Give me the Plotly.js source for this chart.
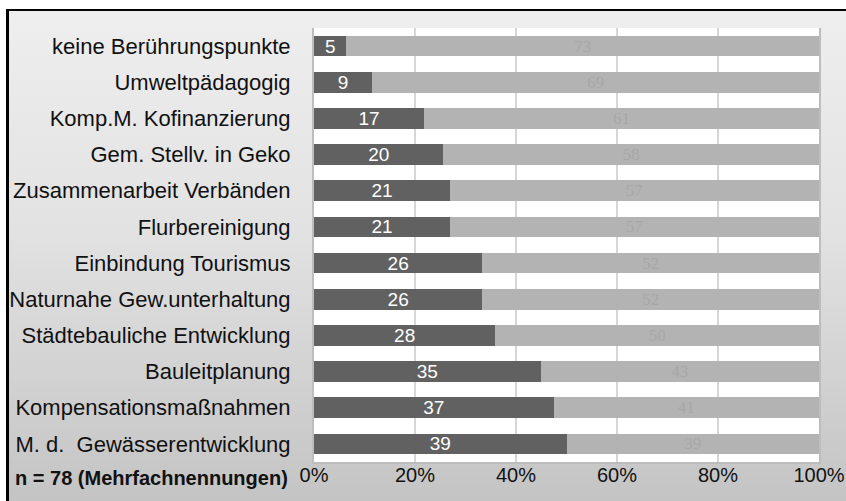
<!DOCTYPE html>
<html>
<head>
<meta charset="utf-8">
<script src="https://cdn.plot.ly/plotly-3.0.1.min.js"></script>
<style>
  html, body { margin: 0; padding: 0; background: #ffffff; }
  #wrap { position: relative; width: 846px; height: 501px; overflow: hidden; background: #ffffff; }
  #bg { position: absolute; left: 6px; top: 9px; right: 0; bottom: 0;
        border-left: 3px solid #000; border-top: 2px solid #000;
        background: linear-gradient(to bottom, #eeeeee 0%, #e2e2e2 45%, #c4c4c4 100%); }
  #chart { position: absolute; left: 0; top: 0; width: 846px; height: 501px; }
</style>
</head>
<body>
<div id="wrap"><div id="bg"></div><div id="chart"></div></div>
<script>
const categories = [
  "keine Berührungspunkte",
  "Umweltpädagogig",
  "Komp.M. Kofinanzierung",
  "Gem. Stellv. in Geko",
  "Zusammenarbeit Verbänden",
  "Flurbereinigung",
  "Einbindung Tourismus",
  "Naturnahe Gew.unterhaltung",
  "Städtebauliche Entwicklung",
  "Bauleitplanung",
  "Kompensationsmaßnahmen",
  "M. d.\u00a0 Gewässerentwicklung"
];
const yesValues = [5, 9, 17, 20, 21, 21, 26, 26, 28, 35, 37, 39];
const noValues  = [73, 69, 61, 58, 57, 57, 52, 52, 50, 43, 41, 39];
const xTickVals = [0, 20, 40, 60, 80, 100];
const xTickText = ["0%", "20%", "40%", "60%", "80%", "100%"];
const noteText = "<b>n = 78 (Mehrfachnennungen)</b>";

const SANS = "Liberation Sans";
const SERIF = "Liberation Serif";

const traces = [
  {
    type: "bar", orientation: "h", y: categories, x: yesValues,
    text: yesValues.map(String), textposition: "inside", insidetextanchor: "middle",
    textangle: 0, constraintext: "none",
    textfont: { family: SANS, size: 19, color: "#ffffff" },
    marker: { color: "#616161", line: { width: 0 } },
    hoverinfo: "none"
  },
  {
    type: "bar", orientation: "h", y: categories, x: noValues,
    text: noValues.map(String), textposition: "inside", insidetextanchor: "middle",
    textangle: 0, constraintext: "none",
    textfont: { family: SERIF, size: 17, color: "#a7a7a7" },
    marker: { color: "#b3b3b3", line: { width: 0 } },
    hoverinfo: "none"
  }
];

const layout = {
  width: 846, height: 501,
  margin: { l: 314, r: 27, t: 28, b: 39, pad: 0 },
  paper_bgcolor: "rgba(0,0,0,0)",
  plot_bgcolor: "#ffffff",
  barmode: "stack", barnorm: "percent", bargap: 0.43,
  showlegend: false,
  font: { family: SANS, size: 20, color: "#111111" },
  xaxis: {
    range: [0, 100], tickvals: xTickVals, ticktext: xTickText,
    showgrid: true, gridcolor: "#d6d6d6", gridwidth: 2,
    zeroline: false, showline: true, linecolor: "#bdbdbd", linewidth: 2,
    ticks: "", ticklabelstandoff: -6,
    tickfont: { family: SANS, size: 20, color: "#111111" },
    fixedrange: true
  },
  yaxis: {
    autorange: "reversed", showgrid: false, zeroline: false,
    showline: true, mirror: true, linecolor: "#bdbdbd", linewidth: 2,
    ticks: "", ticklabelstandoff: 17,
    tickfont: { family: SANS, size: 22, color: "#111111" },
    fixedrange: true
  },
  annotations: [{
    text: noteText, xref: "paper", yref: "paper",
    x: (13 - 314) / 505, y: (462 - 478) / 434,
    xanchor: "left", yanchor: "middle", showarrow: false,
    font: { family: SANS, size: 20, color: "#111111" }
  }]
};

Plotly.newPlot("chart", traces, layout, { staticPlot: true, displayModeBar: false });
</script>
</body>
</html>
